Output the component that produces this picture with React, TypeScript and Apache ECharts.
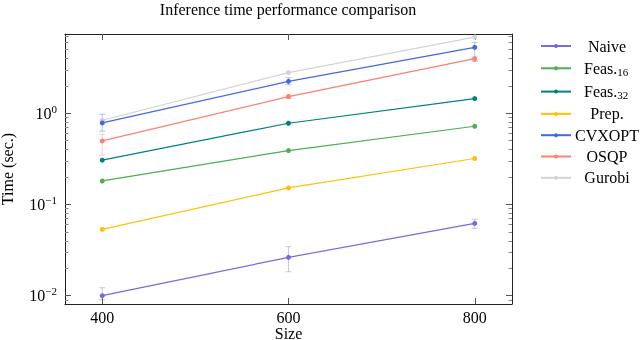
import React, { useEffect, useRef } from "react";
import * as echarts from "echarts";

const sizes = [400, 600, 800];

const naive = [0.01, 0.0263, 0.062];
const feas16 = [0.181, 0.39, 0.721];
const feas32 = [0.306, 0.777, 1.45];
const prep = [0.0532, 0.152, 0.319];
const cvxopt = [0.783, 2.24, 5.28];
const osqp = [0.497, 1.52, 3.97];
const gurobi = [0.838, 2.79, 6.85];

const naiveLow = [0.009, 0.0183, 0.0547];
const naiveHigh = [0.0122, 0.0344, 0.069];
const cvxoptLow = [0.635, 2.05, 3.7];
const cvxoptHigh = [0.975, 2.45, 6.0];
const osqpLow = [0.347, 1.45, 3.8];
const osqpHigh = [0.589, 1.6, 4.15];

const majorY = [0.01, 0.1, 1];
const minorMult = [2, 3, 4, 5, 6, 7, 8, 9];
const decades = [0.001, 0.01, 0.1, 1];

const X_MIN = 360;
const X_MAX = 840;
const Y_MIN = 0.0081;
const Y_MAX = 7.4;

const FONT = "Liberation Serif";

const C = {
  naive: "#7b68dd",
  feas16: "#4caf50",
  feas32: "#008080",
  prep: "#ffc107",
  cvxopt: "#4169e1",
  osqp: "#fa8072",
  gurobi: "#d3d3d3",
};

const legendLabels: Record<string, string> = {
  Naive: "{c|Naive}",
  "Feas.16": "{p|}{t|Feas.}{s|16}",
  "Feas.32": "{p|}{t|Feas.}{s|32}",
  "Prep.": "{c|Prep.}",
  CVXOPT: "{c|CVXOPT}",
  OSQP: "{c|OSQP}",
  Gurobi: "{c|Gurobi}",
};

export default function App() {
  const ref = useRef<HTMLDivElement>(null);
  useEffect(() => {
    if (!ref.current) return;
    const chart = echarts.init(ref.current, undefined, { renderer: "svg" });

    const minorY: number[] = [];
    decades.forEach((d) =>
      minorMult.forEach((m) => {
        const v = +(d * m).toPrecision(3);
        if (v > Y_MIN && v < Y_MAX) minorY.push(v);
      })
    );

    const lineSeries = (name: string, vals: number[], color: string) => ({
      type: "line",
      name,
      data: sizes.map((x, i) => [x, vals[i]]),
      symbol: "circle",
      symbolSize: 5,
      showSymbol: true,
      color,
      itemStyle: { color },
      lineStyle: { color, width: 1.2 },
      z: 3,
    });

    const errSeries = (name: string, lo: number[], hi: number[], color: string) => ({
      type: "custom",
      name,
      data: sizes.map((x, i) => [x, lo[i], hi[i]]),
      encode: { x: 0, y: [1, 2] },
      silent: true,
      z: 2,
      renderItem: (params: any, api: any) => {
        const x = api.value(0);
        const a = api.coord([x, api.value(1)]);
        const b = api.coord([x, api.value(2)]);
        const cap = 3;
        const style = { stroke: color, lineWidth: 1, opacity: 0.4 };
        return {
          type: "group",
          children: [
            { type: "line", shape: { x1: a[0], y1: a[1], x2: b[0], y2: b[1] }, style },
            { type: "line", shape: { x1: a[0] - cap, y1: a[1], x2: a[0] + cap, y2: a[1] }, style },
            { type: "line", shape: { x1: b[0] - cap, y1: b[1], x2: b[0] + cap, y2: b[1] }, style },
          ],
        };
      },
    });

    const axisLineStyle = { color: "#222", width: 1 };

    const yBase = (position: "left" | "right") => ({
      type: "log",
      min: Y_MIN,
      max: Y_MAX,
      position,
      splitLine: { show: false },
    });

    chart.setOption({
      animation: false,
      title: {
        text: "Inference time performance comparison",
        left: 288,
        top: 1,
        padding: 0,
        textAlign: "center",
        textStyle: { fontFamily: FONT, fontSize: 16, fontWeight: "normal", color: "#000" },
      },
      grid: {
        left: 65,
        right: 128,
        top: 34,
        bottom: 36,
        show: false,
        containLabel: false,
        outerBoundsMode: "none",
      },
      legend: {
        data: ["Naive", "Feas.16", "Feas.32", "Prep.", "CVXOPT", "OSQP", "Gurobi"],
        orient: "vertical",
        left: 540,
        top: 38,
        itemWidth: 30,
        itemHeight: 5,
        itemGap: 5.3,
        padding: 0,
        formatter: (n: string) => legendLabels[n] || n,
        textStyle: {
          fontFamily: FONT,
          fontSize: 16,
          color: "#000",
          rich: {
            c: { fontFamily: FONT, fontSize: 16, lineHeight: 17, color: "#000", width: 62, align: "center" },
            p: { width: 8, lineHeight: 17 },
            t: { fontFamily: FONT, fontSize: 16, lineHeight: 17, color: "#000" },
            s: { fontFamily: FONT, fontSize: 11, lineHeight: 10, color: "#000", padding: [7, 0, 0, 0] },
          },
        },
      },
      xAxis: [
        {
          type: "value",
          min: X_MIN,
          max: X_MAX,
          position: "bottom",
          axisLine: { show: true, lineStyle: axisLineStyle },
          axisTick: { show: true, inside: true, length: 6, customValues: sizes, lineStyle: { color: "#555" } },
          axisLabel: { customValues: sizes, fontFamily: FONT, fontSize: 16, color: "#000", margin: 5 },
          splitLine: { show: false },
          name: "Size",
          nameLocation: "middle",
          nameGap: 21,
          nameMoveOverlap: false,
          nameTextStyle: { fontFamily: FONT, fontSize: 16, color: "#000", lineHeight: 16 },
        },
        {
          type: "value",
          min: X_MIN,
          max: X_MAX,
          position: "top",
          axisLine: { show: true, lineStyle: axisLineStyle },
          axisTick: { show: true, inside: true, length: 6, customValues: sizes, lineStyle: { color: "#555" } },
          axisLabel: { show: false },
          splitLine: { show: false },
        },
      ],
      yAxis: [
        {
          ...yBase("left"),
          axisLine: { show: true, lineStyle: axisLineStyle },
          axisTick: { show: true, inside: true, length: 6, customValues: majorY, lineStyle: { color: "#555" } },
          axisLabel: {
            customValues: majorY,
            margin: 8,
            fontFamily: FONT,
            fontSize: 16,
            color: "#000",
            formatter: (v: number) => {
              const e = Math.round(Math.log10(v));
              const s = e < 0 ? "\u2212" + Math.abs(e) : String(e);
              return "{b|10}{s|" + s + "}";
            },
            rich: {
              b: { fontFamily: FONT, fontSize: 16, color: "#000" },
              s: { fontFamily: FONT, fontSize: 11, color: "#000", padding: [0, 0, 9, 0] },
            },
          },
          name: "Time (sec.)",
          nameLocation: "middle",
          nameGap: 50,
          nameMoveOverlap: false,
          nameRotate: 90,
          nameTextStyle: { fontFamily: FONT, fontSize: 16, color: "#000" },
        },
        {
          ...yBase("right"),
          axisLine: { show: true, lineStyle: axisLineStyle },
          axisTick: { show: true, inside: true, length: 6, customValues: majorY, lineStyle: { color: "#555" } },
          axisLabel: { show: false },
        },
        {
          ...yBase("left"),
          axisLine: { show: false },
          axisTick: { show: true, inside: true, length: 3.5, customValues: minorY, lineStyle: { color: "#888" } },
          axisLabel: { show: false },
        },
        {
          ...yBase("right"),
          axisLine: { show: false },
          axisTick: { show: true, inside: true, length: 3.5, customValues: minorY, lineStyle: { color: "#888" } },
          axisLabel: { show: false },
        },
      ],
      series: [
        errSeries("Naive err", naiveLow, naiveHigh, C.naive),
        errSeries("CVXOPT err", cvxoptLow, cvxoptHigh, C.cvxopt),
        errSeries("OSQP err", osqpLow, osqpHigh, C.osqp),
        lineSeries("Gurobi", gurobi, C.gurobi),
        lineSeries("OSQP", osqp, C.osqp),
        lineSeries("CVXOPT", cvxopt, C.cvxopt),
        lineSeries("Prep.", prep, C.prep),
        lineSeries("Feas.32", feas32, C.feas32),
        lineSeries("Feas.16", feas16, C.feas16),
        lineSeries("Naive", naive, C.naive),
      ],
    });
    return () => chart.dispose();
  }, []);
  return (
    <div
      ref={ref}
      style={{ position: "fixed", left: 0, top: 0, width: 640, height: 340 }}
    />
  );
}
